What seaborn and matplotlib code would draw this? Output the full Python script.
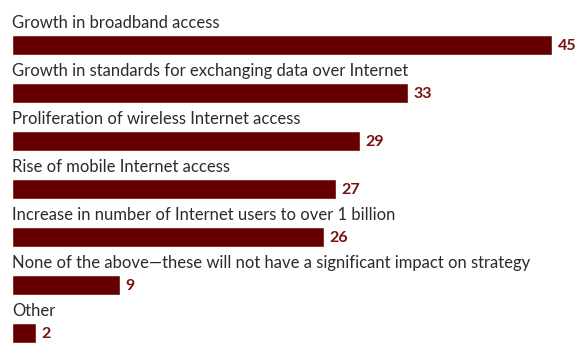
import matplotlib
matplotlib.use("Agg")
import matplotlib.pyplot as plt
import seaborn as sns
import pandas as pd

categories = [
    "Growth in broadband access",
    "Growth in standards for exchanging data over Internet",
    "Proliferation of wireless Internet access",
    "Rise of mobile Internet access",
    "Increase in number of Internet users to over 1 billion",
    "None of the above\u2014these will not have a significant impact on strategy",
    "Other",
]
values = [45, 33, 29, 27, 26, 9, 2]

BAR_COLOR = "#660000"
VALUE_COLOR = "#7a1010"
TEXT_COLOR = "#2b2b2b"

sns.set_theme(style="white")
plt.rcParams["font.family"] = ["Lato", "DejaVu Sans"]

df = pd.DataFrame({"item": categories, "pct": values})

fig = plt.figure(figsize=(5.76, 3.43), dpi=100)
ax = fig.add_axes([0, 0, 1, 1])

bar_w = 20 / 48
sns.barplot(data=df, x="pct", y="item", order=categories, orient="h",
            color=BAR_COLOR, saturation=1, width=bar_w, ax=ax)

for i, (label, v) in enumerate(zip(categories, values)):
    ax.text(0, i - 17 / 48, label, ha="left", va="baseline",
            fontsize=12, color=TEXT_COLOR)
    ax.text(v + 0.45, i + 0.03, str(v), ha="left", va="center",
            fontsize=11.5, fontweight="bold", color=VALUE_COLOR)

ax.set_xlim(-1, 47)
ax.set_ylim((343 - 45) / 48, -45 / 48)
ax.set_axis_off()

fig.savefig("out.png", dpi=100)
